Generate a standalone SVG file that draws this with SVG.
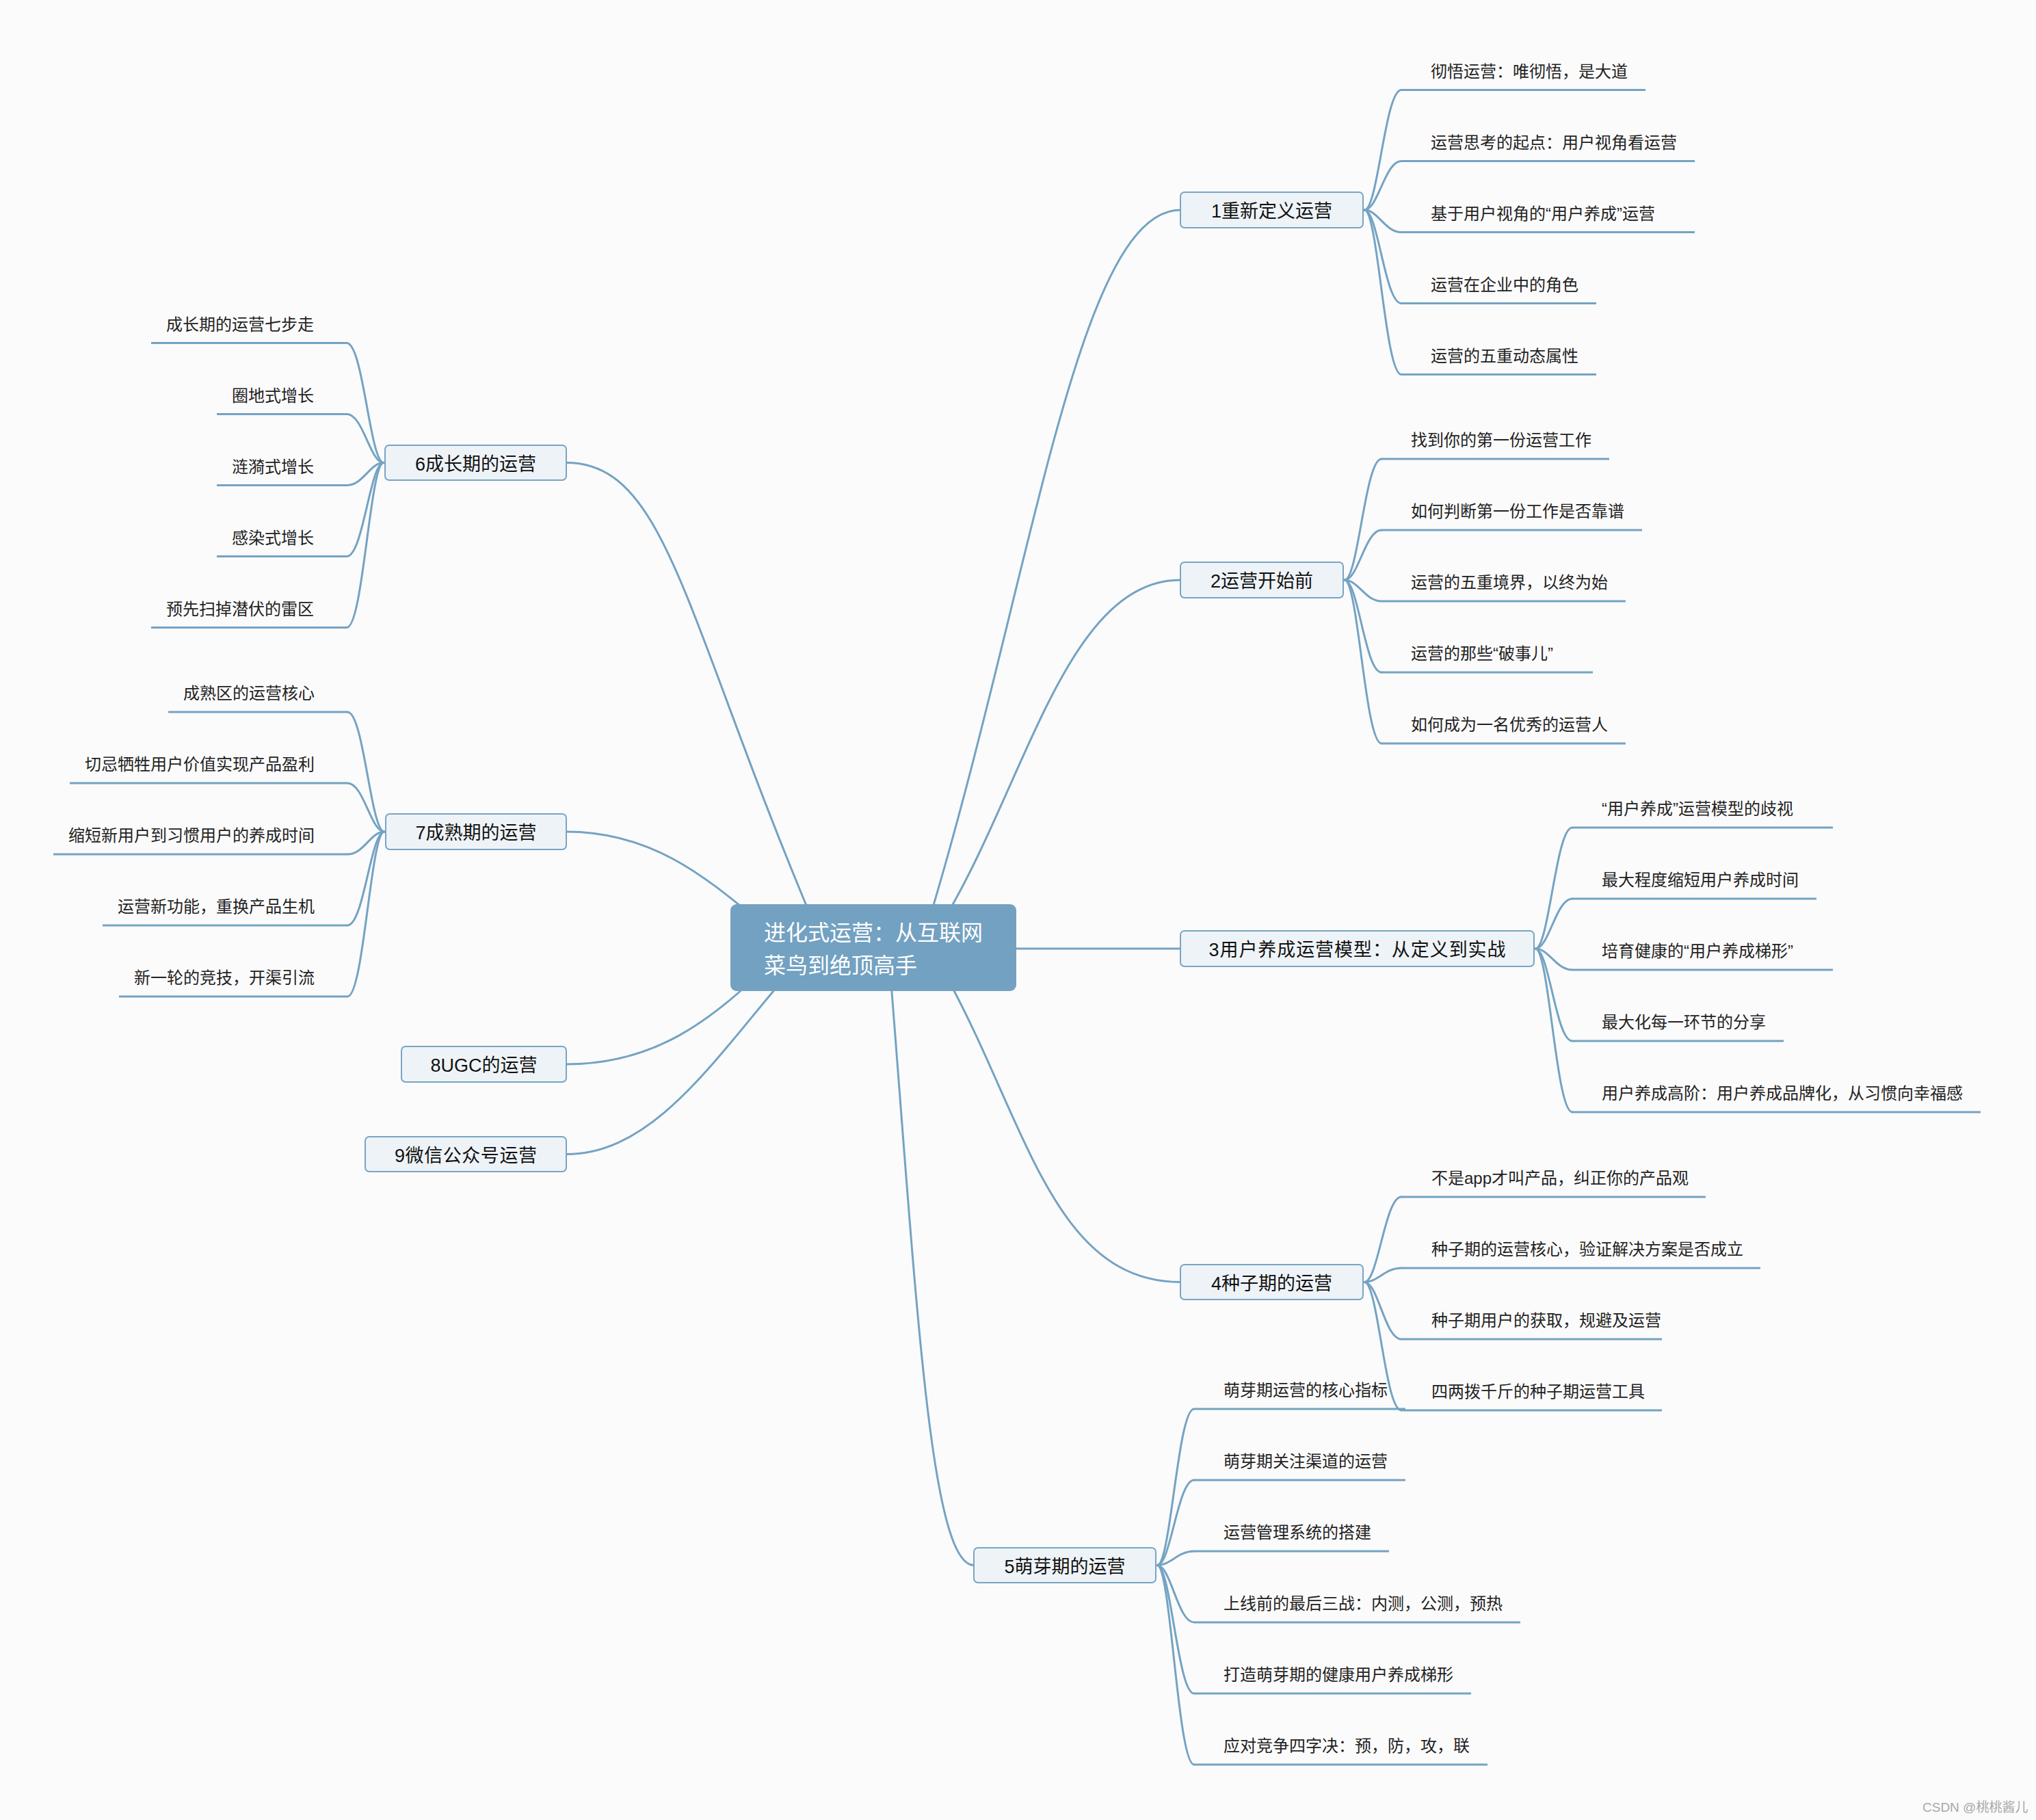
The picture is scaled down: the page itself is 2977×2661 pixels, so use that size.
<svg xmlns="http://www.w3.org/2000/svg" width="2977" height="2661" viewBox="0 0 2977 2661">
<style>
.bg{fill:#FBFBFB}
.conn path{fill:none;stroke:#74A3C3;stroke-width:3;stroke-linecap:round}
.leaf path{fill:none;stroke:#74A3C3;stroke-width:3}
.leaf text{font-family:"Liberation Sans","Noto Sans CJK SC",sans-serif;font-size:24px;fill:#222}
.topic rect{fill:#EEF3F7;stroke:#78A5C4;stroke-width:2}
.topic text{font-family:"Liberation Sans","Noto Sans CJK SC",sans-serif;font-size:27px;fill:#111;text-anchor:middle}
.root rect{fill:#73A1C1}
.root text{font-family:"Liberation Sans","Noto Sans CJK SC",sans-serif;font-size:32px;fill:#FFFFFF}
.lt text{text-anchor:end}
.wm{font-family:"Liberation Sans","Noto Sans CJK SC",sans-serif;font-size:19px;fill:#A8A8A8}
</style>
<rect class="bg" x="0" y="0" width="2977" height="2661"/>
<g id="connectors" class="conn">
<path d="M1360,1340 C1510,840 1576,307 1726,307"/>
<path d="M1380,1345 C1500,1145 1560,848 1726,848"/>
<path d="M1400,1387 H1726"/>
<path d="M1385,1430 C1500,1640 1540,1874.5 1726,1874.5"/>
<path d="M1300,1400 C1340,1900 1360,2288.5 1424,2288.5"/>
<path d="M1190,1350 C1000,900 975,676.5 828,676.5"/>
<path d="M1120,1355 C1040,1290 960,1216 828,1216"/>
<path d="M1120,1415 C1040,1490 960,1556 828,1556"/>
<path d="M1160,1415 C1050,1540 960,1687.5 828,1687.5"/>
<path d="M1995,307 C2015,307 2025,131.5 2049,131.5"/>
<path d="M1995,307 C2015,307 2025,235.5 2049,235.5"/>
<path d="M1995,307 C2015,307 2025,339.5 2049,339.5"/>
<path d="M1995,307 C2015,307 2025,443.5 2049,443.5"/>
<path d="M1995,307 C2015,307 2025,547.5 2049,547.5"/>
<path d="M1966,848 C1986,848 1996,671 2020,671"/>
<path d="M1966,848 C1986,848 1996,775 2020,775"/>
<path d="M1966,848 C1986,848 1996,879 2020,879"/>
<path d="M1966,848 C1986,848 1996,983 2020,983"/>
<path d="M1966,848 C1986,848 1996,1087 2020,1087"/>
<path d="M2245,1387 C2265,1387 2275,1210 2299,1210"/>
<path d="M2245,1387 C2265,1387 2275,1314 2299,1314"/>
<path d="M2245,1387 C2265,1387 2275,1418 2299,1418"/>
<path d="M2245,1387 C2265,1387 2275,1522 2299,1522"/>
<path d="M2245,1387 C2265,1387 2275,1626 2299,1626"/>
<path d="M1995,1874.5 C2015,1874.5 2025,1750 2049,1750"/>
<path d="M1995,1874.5 C2015,1874.5 2025,1854 2049,1854"/>
<path d="M1995,1874.5 C2015,1874.5 2025,1958 2049,1958"/>
<path d="M1995,1874.5 C2015,1874.5 2025,2062 2049,2062"/>
<path d="M1692,2288.5 C1712,2288.5 1722,2060 1746,2060"/>
<path d="M1692,2288.5 C1712,2288.5 1722,2164 1746,2164"/>
<path d="M1692,2288.5 C1712,2288.5 1722,2268 1746,2268"/>
<path d="M1692,2288.5 C1712,2288.5 1722,2372 1746,2372"/>
<path d="M1692,2288.5 C1712,2288.5 1722,2476 1746,2476"/>
<path d="M1692,2288.5 C1712,2288.5 1722,2580 1746,2580"/>
<path d="M561,676.5 C541,676.5 531,501.5 507,501.5"/>
<path d="M561,676.5 C541,676.5 531,605.5 507,605.5"/>
<path d="M561,676.5 C541,676.5 531,709.5 507,709.5"/>
<path d="M561,676.5 C541,676.5 531,813.5 507,813.5"/>
<path d="M561,676.5 C541,676.5 531,917.5 507,917.5"/>
<path d="M562,1216 C542,1216 532,1041 508,1041"/>
<path d="M562,1216 C542,1216 532,1145 508,1145"/>
<path d="M562,1216 C542,1216 532,1249 508,1249"/>
<path d="M562,1216 C542,1216 532,1353 508,1353"/>
<path d="M562,1216 C542,1216 532,1457 508,1457"/>
</g>
<g id="root" class="root">
<rect x="1068" y="1322" width="418" height="127" rx="9"/>
<text x="1117" y="1375">进化式运营：从互联网</text>
<text x="1117" y="1423">菜鸟到绝顶高手</text>
</g>
<g id="t1" class="topic"><rect x="1726" y="281" width="267" height="52" rx="6"/><text x="1859.5" y="318">1重新定义运营</text></g>
<g id="t2" class="topic"><rect x="1726" y="822" width="238" height="52" rx="6"/><text x="1845" y="859">2运营开始前</text></g>
<g id="t3" class="topic"><rect x="1726" y="1361" width="517" height="52" rx="6"/><text x="1984.5" y="1398" textLength="434" lengthAdjust="spacing">3用户养成运营模型：从定义到实战</text></g>
<g id="t4" class="topic"><rect x="1726" y="1849" width="267" height="51" rx="6"/><text x="1859.5" y="1885.5">4种子期的运营</text></g>
<g id="t5" class="topic"><rect x="1424" y="2263" width="266" height="51" rx="6"/><text x="1557" y="2299.5">5萌芽期的运营</text></g>
<g id="t6" class="topic"><rect x="563" y="651" width="265" height="51" rx="6"/><text x="695.5" y="687.5">6成长期的运营</text></g>
<g id="t7" class="topic"><rect x="564" y="1190" width="264" height="52" rx="6"/><text x="696" y="1227">7成熟期的运营</text></g>
<g id="t8" class="topic"><rect x="587" y="1530" width="241" height="52" rx="6"/><text x="707.5" y="1567">8UGC的运营</text></g>
<g id="t9" class="topic"><rect x="534" y="1662" width="294" height="51" rx="6"/><text x="681" y="1698.5" textLength="208" lengthAdjust="spacing">9微信公众号运营</text></g>
<g id="l1-1" class="leaf"><path d="M2049,131.5 H2406"/><text x="2092" y="112.5">彻悟运营：唯彻悟，是大道</text></g>
<g id="l1-2" class="leaf"><path d="M2049,235.5 H2478"/><text x="2092" y="216.5">运营思考的起点：用户视角看运营</text></g>
<g id="l1-3" class="leaf"><path d="M2049,339.5 H2478"/><text x="2092" y="320.5">基于用户视角的“用户养成”运营</text></g>
<g id="l1-4" class="leaf"><path d="M2049,443.5 H2334"/><text x="2092" y="424.5">运营在企业中的角色</text></g>
<g id="l1-5" class="leaf"><path d="M2049,547.5 H2334"/><text x="2092" y="528.5">运营的五重动态属性</text></g>
<g id="l2-1" class="leaf"><path d="M2020,671 H2353"/><text x="2063" y="652">找到你的第一份运营工作</text></g>
<g id="l2-2" class="leaf"><path d="M2020,775 H2401"/><text x="2063" y="756">如何判断第一份工作是否靠谱</text></g>
<g id="l2-3" class="leaf"><path d="M2020,879 H2377"/><text x="2063" y="860">运营的五重境界，以终为始</text></g>
<g id="l2-4" class="leaf"><path d="M2020,983 H2329"/><text x="2063" y="964">运营的那些“破事儿”</text></g>
<g id="l2-5" class="leaf"><path d="M2020,1087 H2377"/><text x="2063" y="1068">如何成为一名优秀的运营人</text></g>
<g id="l3-1" class="leaf"><path d="M2299,1210 H2680"/><text x="2342" y="1191">“用户养成”运营模型的歧视</text></g>
<g id="l3-2" class="leaf"><path d="M2299,1314 H2656"/><text x="2342" y="1295">最大程度缩短用户养成时间</text></g>
<g id="l3-3" class="leaf"><path d="M2299,1418 H2680"/><text x="2342" y="1399">培育健康的“用户养成梯形”</text></g>
<g id="l3-4" class="leaf"><path d="M2299,1522 H2608"/><text x="2342" y="1503">最大化每一环节的分享</text></g>
<g id="l3-5" class="leaf"><path d="M2299,1626 H2896"/><text x="2342" y="1607">用户养成高阶：用户养成品牌化，从习惯向幸福感</text></g>
<g id="l4-1" class="leaf"><path d="M2049,1750 H2494"/><text x="2093" y="1731">不是app才叫产品，纠正你的产品观</text></g>
<g id="l4-2" class="leaf"><path d="M2049,1854 H2574"/><text x="2093" y="1835">种子期的运营核心，验证解决方案是否成立</text></g>
<g id="l4-3" class="leaf"><path d="M2049,1958 H2430"/><text x="2093" y="1939">种子期用户的获取，规避及运营</text></g>
<g id="l4-4" class="leaf"><path d="M2049,2062 H2430"/><text x="2093" y="2043">四两拨千斤的种子期运营工具</text></g>
<g id="l5-1" class="leaf"><path d="M1746,2060 H2055"/><text x="1789" y="2041">萌芽期运营的核心指标</text></g>
<g id="l5-2" class="leaf"><path d="M1746,2164 H2055"/><text x="1789" y="2145">萌芽期关注渠道的运营</text></g>
<g id="l5-3" class="leaf"><path d="M1746,2268 H2031"/><text x="1789" y="2249">运营管理系统的搭建</text></g>
<g id="l5-4" class="leaf"><path d="M1746,2372 H2223"/><text x="1789" y="2353">上线前的最后三战：内测，公测，预热</text></g>
<g id="l5-5" class="leaf"><path d="M1746,2476 H2151"/><text x="1789" y="2457">打造萌芽期的健康用户养成梯形</text></g>
<g id="l5-6" class="leaf"><path d="M1746,2580 H2175"/><text x="1789" y="2561">应对竞争四字决：预，防，攻，联</text></g>
<g id="l6-1" class="leaf lt"><path d="M507,501.5 H221"/><text x="459" y="482.5">成长期的运营七步走</text></g>
<g id="l6-2" class="leaf lt"><path d="M507,605.5 H317"/><text x="459" y="586.5">圈地式增长</text></g>
<g id="l6-3" class="leaf lt"><path d="M507,709.5 H317"/><text x="459" y="690.5">涟漪式增长</text></g>
<g id="l6-4" class="leaf lt"><path d="M507,813.5 H317"/><text x="459" y="794.5">感染式增长</text></g>
<g id="l6-5" class="leaf lt"><path d="M507,917.5 H221"/><text x="459" y="898.5">预先扫掉潜伏的雷区</text></g>
<g id="l7-1" class="leaf lt"><path d="M508,1041 H246"/><text x="460" y="1022">成熟区的运营核心</text></g>
<g id="l7-2" class="leaf lt"><path d="M508,1145 H102"/><text x="460" y="1126">切忌牺牲用户价值实现产品盈利</text></g>
<g id="l7-3" class="leaf lt"><path d="M508,1249 H78"/><text x="460" y="1230">缩短新用户到习惯用户的养成时间</text></g>
<g id="l7-4" class="leaf lt"><path d="M508,1353 H150"/><text x="460" y="1334">运营新功能，重换产品生机</text></g>
<g id="l7-5" class="leaf lt"><path d="M508,1457 H174"/><text x="460" y="1438">新一轮的竞技，开渠引流</text></g>
<text class="wm" x="2811" y="2649">CSDN @桃桃酱儿</text>
</svg>
